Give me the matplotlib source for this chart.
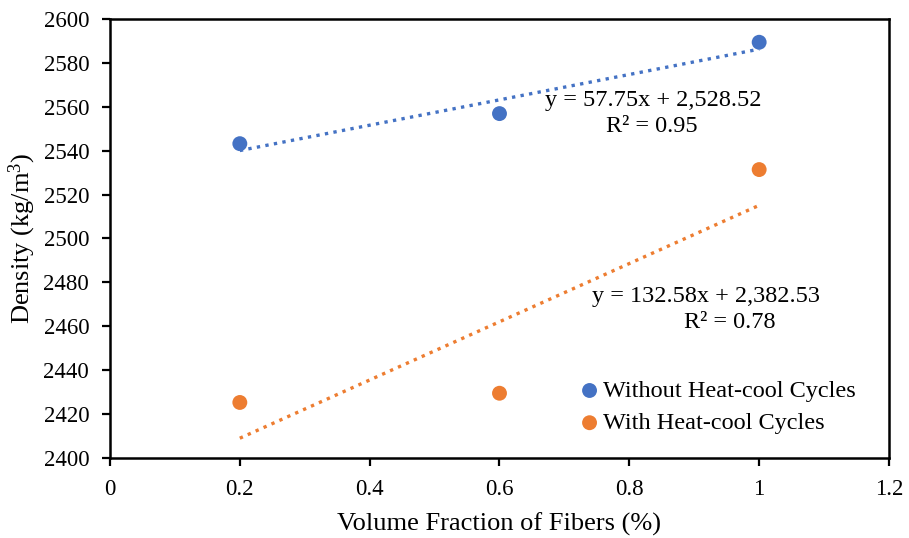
import numpy as np
import matplotlib
matplotlib.use("Agg")
import matplotlib.pyplot as plt

plt.rcParams['font.family'] = ['Liberation Serif', 'DejaVu Serif']
plt.rcParams['mathtext.fontset'] = 'custom'
plt.rcParams['mathtext.rm'] = 'Liberation Serif'
plt.rcParams['mathtext.it'] = 'Liberation Serif:italic'

# Data
fiber_fraction = [0.2, 0.6, 1.0]
density_without = [2543.2, 2556.9, 2589.4]
density_with = [2425.3, 2429.5, 2531.4]
series_names = ["Without Heat-cool Cycles", "With Heat-cool Cycles"]
eq_without = ["y = 57.75x + 2,528.52", "R² = 0.95"]
eq_with = ["y = 132.58x + 2,382.53", "R² = 0.78"]
x_ticks = [0, 0.2, 0.4, 0.6, 0.8, 1.0, 1.2]
x_tick_labels = ["0", "0.2", "0.4", "0.6", "0.8", "1", "1.2"]
y_ticks = list(range(2400, 2601, 20))

blue = "#4472C4"
orange = "#ED7D31"

fig = plt.figure(figsize=(9.09, 5.38), dpi=100)
ax = fig.add_axes([0.121, 0.1487, 0.857, 0.816])

x = np.array(fiber_fraction)
for ys, col, name in [(density_without, blue, series_names[0]),
                      (density_with, orange, series_names[1])]:
    ys = np.array(ys)
    ax.scatter(x, ys, s=115, color=col, zorder=3, label=name, edgecolors='none')
    m, b = np.polyfit(x, ys, 1)
    xl = np.array([x.min(), x.max()])
    ax.plot(xl, m * xl + b, color=col, lw=2.4, linestyle=(0, (1, 1.6)), zorder=2)

ax.set_xlim(0, 1.2)
ax.set_ylim(2400, 2600)
ax.set_xticks(x_ticks)
ax.set_xticklabels(x_tick_labels)
ax.set_yticks(y_ticks)

for sp in ax.spines.values():
    sp.set_linewidth(1.8)
    sp.set_color('black')
ax.tick_params(axis='both', direction='out', length=6, width=1.6, labelsize=16.5, pad=9)

ax.set_xlabel("Volume Fraction of Fibers (%)", fontsize=19, labelpad=9)
ax.set_ylabel("Density (kg/m$^3$)", fontsize=19, labelpad=4)

fs = 17.5
ax.text(0.697, 0.815, eq_without[0], transform=ax.transAxes, ha='center', va='center', fontsize=fs)
ax.text(0.696, 0.754, eq_without[1], transform=ax.transAxes, ha='center', va='center', fontsize=fs)
ax.text(0.765, 0.369, eq_with[0], transform=ax.transAxes, ha='center', va='center', fontsize=fs)
ax.text(0.795, 0.308, eq_with[1], transform=ax.transAxes, ha='center', va='center', fontsize=fs)

ax.legend(loc='upper left', bbox_to_anchor=(0.60, 0.178), frameon=False, fontsize=fs,
          handletextpad=0.05, handlelength=1.0, borderaxespad=0, labelspacing=0.42,
          scatterpoints=1, borderpad=0)

fig.savefig("out.png", dpi=100)
